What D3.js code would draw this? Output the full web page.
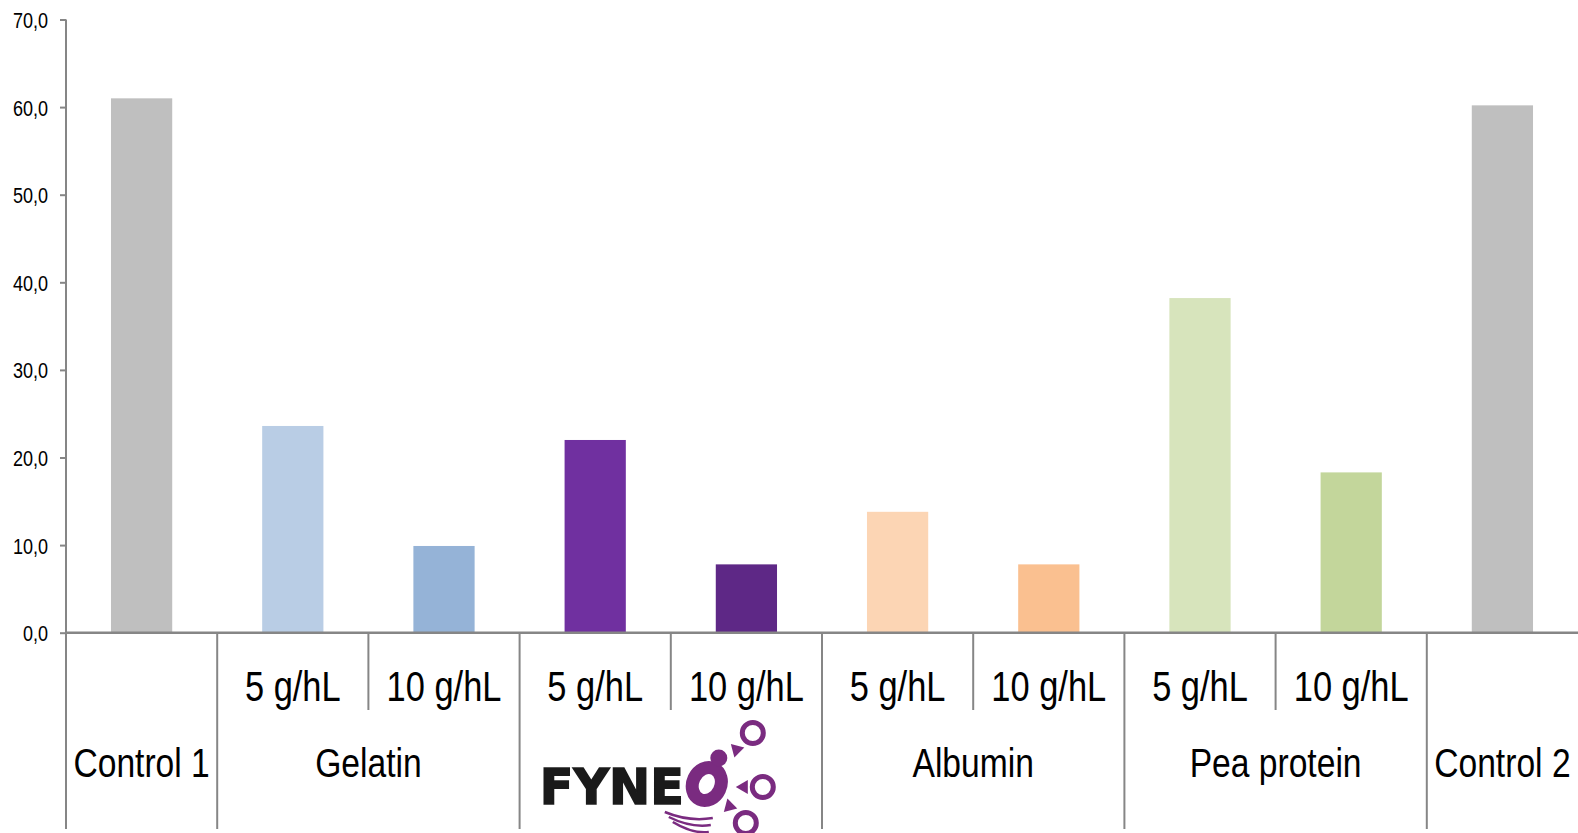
<!DOCTYPE html>
<html>
<head>
<meta charset="utf-8">
<script src="https://cdn.jsdelivr.net/npm/d3@7"></script>
<style>
  html, body { margin: 0; padding: 0; background: #ffffff; overflow: hidden; }
  svg { display: block; }
  .lbl { font-family: "Liberation Sans", Arial, sans-serif; fill: #000; }
</style>
</head>
<body>
<svg id="chart" width="1578" height="833"></svg>
<script>
// Treatments, one bar each, in display order
const barKeys = ["c1", "gel5", "gel10", "fyn5", "fyn10", "alb5", "alb10", "pea5", "pea10", "c2"];
const doseLabels = ["", "5 g/hL", "10 g/hL", "5 g/hL", "10 g/hL", "5 g/hL", "10 g/hL", "5 g/hL", "10 g/hL", ""];
const values = [61.0, 23.6, 9.9, 22.0, 7.8, 13.8, 7.8, 38.2, 18.3, 60.2];
const barColors = ["#bfbfbf", "#b9cde5", "#95b3d7", "#7030a0", "#5e2886", "#fcd5b4", "#fac090", "#d7e4bc", "#c3d69b", "#bfbfbf"];

// Fining agent groups (first and last bar index of each)
const groupNames = ["Control 1", "Gelatin", "FYNEO", "Albumin", "Pea protein", "Control 2"];
const groupStart = [0, 1, 3, 5, 7, 9];
const groupEnd = [0, 2, 4, 6, 8, 9];

// Value axis ticks
const yTicks = [0, 10, 20, 30, 40, 50, 60, 70];

const axisColor = "#868686";
const x0 = 66, x1 = 1578, yZero = 632.7, yTop = 19.5;
const narrow = 0.82; // horizontal squeeze for the condensed label face

const svg = d3.select("#chart");

const x = d3.scaleBand().domain(barKeys).range([x0, x1]).paddingInner(0).paddingOuter(0);
const y = d3.scaleLinear().domain([0, 70]).range([yZero, yTop]);
const bw = x.bandwidth();
const barW = bw * 0.405;

// Bars
svg.append("g").selectAll("rect")
  .data(barKeys)
  .join("rect")
  .attr("x", (k) => x(k) + (bw - barW) / 2)
  .attr("width", barW)
  .attr("y", (k, i) => y(values[i]))
  .attr("height", (k, i) => yZero - y(values[i]))
  .attr("fill", (k, i) => barColors[i]);

// Y axis
const fmt = d3.format(".1f");
const yAxis = d3.axisLeft(y)
  .tickValues(yTicks)
  .tickSize(6)
  .tickPadding(12)
  .tickFormat((d) => fmt(d).replace(".", ","));
const gy = svg.append("g").attr("transform", `translate(${x0},0)`).call(yAxis);
gy.attr("font-size", null).attr("font-family", null);
gy.select(".domain").remove();
gy.selectAll(".tick line").attr("stroke", axisColor).attr("stroke-width", 2);
gy.selectAll(".tick text")
  .attr("class", "lbl")
  .attr("x", 0)
  .attr("dy", "0.36em")
  .attr("transform", `translate(-18,0) scale(${narrow},1)`)
  .style("font-size", "22px")
  .attr("fill", "#000");

// Vertical axis line, continued down through the category table
svg.append("line")
  .attr("x1", x0).attr("x2", x0)
  .attr("y1", yTop).attr("y2", 829)
  .attr("stroke", axisColor).attr("stroke-width", 2);

// Baseline
svg.append("line")
  .attr("x1", x0).attr("x2", x1)
  .attr("y1", yZero).attr("y2", yZero)
  .attr("stroke", axisColor).attr("stroke-width", 2.5);

// Category separators: long between groups, short between doses
const boundaries = d3.range(1, barKeys.length);
svg.append("g").selectAll("line")
  .data(boundaries)
  .join("line")
  .attr("x1", (i) => x(barKeys[i]))
  .attr("x2", (i) => x(barKeys[i]))
  .attr("y1", yZero)
  .attr("y2", (i) => groupStart.includes(i) ? 829 : 710)
  .attr("stroke", axisColor)
  .attr("stroke-width", 2);

// Dose labels
svg.append("g").selectAll("text")
  .data(barKeys)
  .join("text")
  .attr("class", "lbl")
  .attr("text-anchor", "middle")
  .attr("transform", (k) => `translate(${x(k) + bw / 2},701) scale(${narrow},1)`)
  .style("font-size", "42px")
  .text((k, i) => doseLabels[i]);

// Group labels (FYNEO is shown as its logo)
groupNames.forEach((name, gi) => {
  const cx = (x(barKeys[groupStart[gi]]) + x(barKeys[groupEnd[gi]]) + bw) / 2;
  if (name === "FYNEO") {
    drawLogo(svg.append("g").attr("transform", `translate(${cx},804)`));
  } else {
    svg.append("text")
      .attr("class", "lbl")
      .attr("text-anchor", "middle")
      .attr("transform", `translate(${cx},777) scale(${narrow},1)`)
      .style("font-size", "41px")
      .text(name);
  }
});

// FYNEO wordmark: black letters plus the purple droplet and bubbles
function drawLogo(g) {
  const purple = "#7a2b80";
  g.append("text")
    .attr("x", -131)
    .attr("y", 0)
    .attr("font-family", "DejaVu Sans, Verdana, sans-serif")
    .attr("font-weight", "bold")
    .attr("font-size", 50)
    .attr("fill", "#1a1a1a")
    .attr("stroke", "#1a1a1a")
    .attr("stroke-width", 1.6)
    .attr("textLength", 144)
    .attr("lengthAdjust", "spacingAndGlyphs")
    .text("FYNE");
  // stylised "o"
  g.append("ellipse")
    .attr("cx", 36).attr("cy", -20)
    .attr("rx", 14).attr("ry", 17)
    .attr("transform", "rotate(25,36,-20)")
    .attr("fill", "none")
    .attr("stroke", purple)
    .attr("stroke-width", 13);
  g.append("circle").attr("cx", 48).attr("cy", -46).attr("r", 8.5).attr("fill", purple);
  // swoosh lines
  [0, 1, 2].forEach((i) => {
    g.append("path")
      .attr("d", `M${-6 + i * 4},${8 + i * 5} Q${18 + i * 2},${18 + i * 6} ${42 - i * 2},${14 + i * 7}`)
      .attr("fill", "none")
      .attr("stroke", purple)
      .attr("stroke-width", 2.5);
  });
  // bubbles with pointers
  const bubbles = [
    { cx: 82, cy: -71, tx: 65, ty: -55, ang: 225 },
    { cx: 92, cy: -17, tx: 72, ty: -17, ang: 180 },
    { cx: 75, cy: 19, tx: 58, ty: 3, ang: 135 }
  ];
  bubbles.forEach((b) => {
    g.append("circle")
      .attr("cx", b.cx).attr("cy", b.cy).attr("r", 10.5)
      .attr("fill", "none").attr("stroke", purple).attr("stroke-width", 5);
    g.append("path")
      .attr("d", "M-7,0 L5,-7 L5,7 Z")
      .attr("transform", `translate(${b.tx},${b.ty}) rotate(${b.ang - 180})`)
      .attr("fill", purple);
  });
}
</script>
</body>
</html>
